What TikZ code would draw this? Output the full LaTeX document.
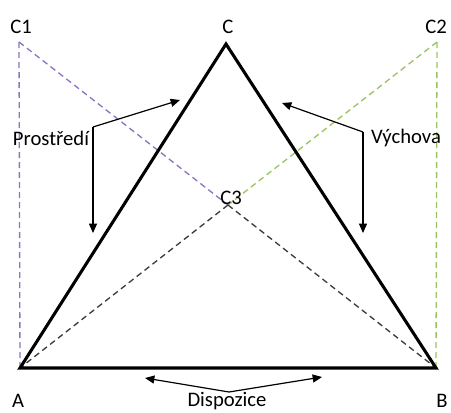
\documentclass[tikz,border=0pt]{standalone}
\usepackage{fontspec}
\setmainfont{Carlito}
\usepackage{xcolor}
\usetikzlibrary{arrows.meta}
\definecolor{linepurple}{RGB}{140,115,195}
\definecolor{linegreen}{RGB}{155,195,95}
\definecolor{linegray}{RGB}{60,60,60}

\tikzset{
  side/.style={line width=2.3pt, line join=miter},
  guide/.style={line width=1pt, dash pattern=on 4.5pt off 3pt},
  pointer/.style={line width=0.9pt, -{Triangle[length=7pt,width=6pt]}},
  label/.style={font=\fontsize{15.5}{17}\selectfont, text=black, inner sep=0pt}
}

\begin{document}
\begin{tikzpicture}[x=0.75pt,y=-0.75pt]
\useasboundingbox (0,0) rectangle (451,412);

\coordinate (A) at (20,368);
\coordinate (B) at (436,368);
\coordinate (C) at (226,44);
\coordinate (C1) at (19,42);
\coordinate (C2) at (437,42);
\coordinate (C3) at (228,205);

% dashed guides
\draw[guide, linepurple] (C1) -- (A);
\draw[guide, linepurple] (C1) -- (C3);
\draw[guide, linegreen] (C2) -- (B);
\draw[guide, linegreen] (C2) -- (C3);
\draw[guide, linegray] (C3) -- (A);
\draw[guide, linegray] (C3) -- (B);

% triangle
\draw[side] (A) -- (B) -- (C) -- cycle;

% labels
\node[label] (lA) at (18,401) {A};
\node[label] (lB) at (442,401) {B};
\node[label] (lC) at (228,27) {C};
\node[label] (lC1) at (21,27) {C1};
\node[label] (lC2) at (436,27) {C2};
\node[label] (lC3) at (231,198) {C3};
\node[label] (prostredi) at (51,138) {Prostředí};
\node[label] (vychova) at (406,138) {Výchova};
\node[label] (dispozice) at (227,401) {Dispozice};

% pointers
\coordinate (pknee) at (93,127);
\coordinate (vknee) at (363,132);
\coordinate (dknee) at (229,392);
\coordinate (pup) at (180,100);
\coordinate (pdown) at (93,233);
\coordinate (vup) at (282,103);
\coordinate (vdown) at (363,233);
\coordinate (dleft) at (145,378);
\coordinate (dright) at (322,377);

\draw[pointer] (pknee) -- (pup);
\draw[pointer] (pknee) -- (pdown);
\draw[pointer] (vknee) -- (vup);
\draw[pointer] (vknee) -- (vdown);
\draw[pointer] (dknee) -- (dleft);
\draw[pointer] (dknee) -- (dright);
\end{tikzpicture}
\end{document}
